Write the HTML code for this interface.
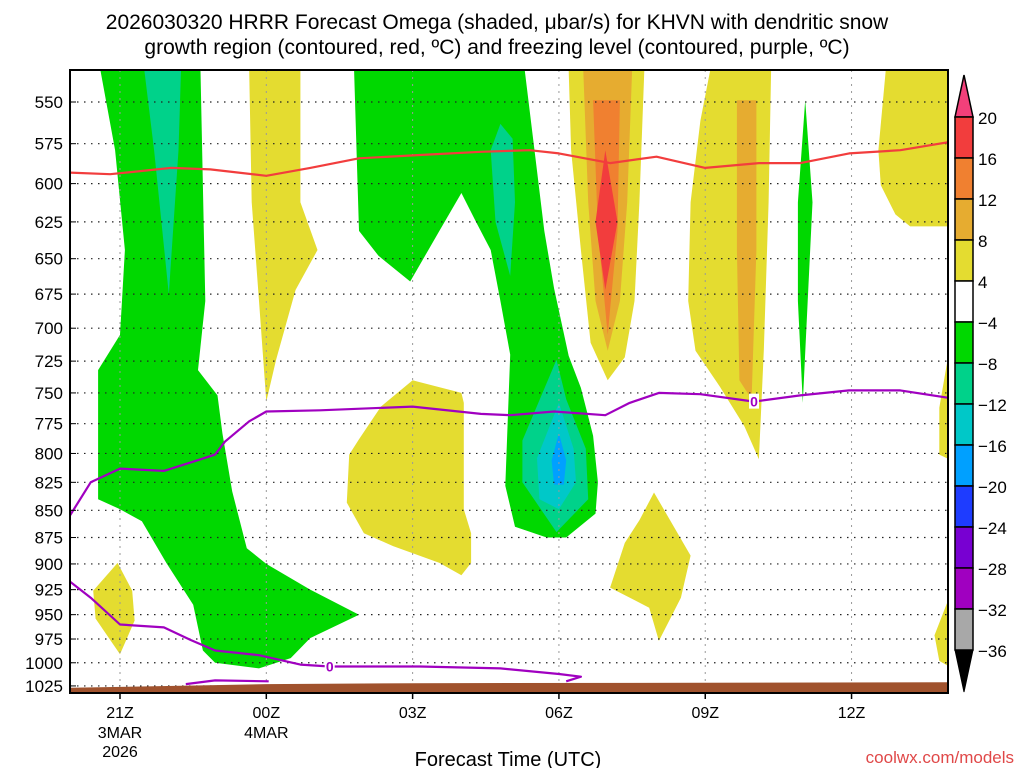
<!DOCTYPE html>
<html><head><meta charset="utf-8"><style>
body{margin:0;background:#fff;}
svg{display:block;font-family:"Liberation Sans",sans-serif;}
</style></head><body>
<svg id="chart" width="1024" height="768" viewBox="0 0 1024 768" xmlns="http://www.w3.org/2000/svg">
<text x="497" y="29" font-size="21" text-anchor="middle">2026030320 HRRR Forecast Omega (shaded, μbar/s) for KHVN with dendritic snow</text>
<text x="497" y="54" font-size="21" text-anchor="middle">growth region (contoured, red, ºC) and freezing level (contoured, purple, ºC)</text>
<g id="plot"></g>
<g id="yaxis"></g>
<g id="xaxis"></g>
<g id="cbar"></g>
<text x="508" y="766" font-size="20" text-anchor="middle">Forecast Time (UTC)</text>
<text x="1014" y="763" font-size="17" text-anchor="end" fill="#e04848">coolwx.com/models</text>
</svg>
<script>
// Axis ticks
const pLevels=[550,575,600,625,650,675,700,725,750,775,800,825,850,875,900,925,950,975,1000,1025];
const tHours=[0,3,6,9,12,15];
const tLabels=["21Z","00Z","03Z","06Z","09Z","12Z"];
const tSub1=["3MAR","4MAR","","","",""];
const tSub2=["2026","","","","",""];
const cbLevels=[20,16,12,8,4,-4,-8,-12,-16,-20,-24,-28,-32,-36];
const cbColors=["#f2407a","#f23d3d","#f08030","#e6ac30","#e4dc30","#ffffff","#00d800","#00d28a","#00c8c8","#00a0ff","#1e3cff","#7800d2","#a000c0","#a8a8a8","#000000"];
// Shaded omega regions [hour from 21Z, hPa]
const greenLeft=[[-0.4,532],[-0.1,579],[0.1,644],[0,705],[-0.45,732],[-0.45,840],[0,849],[0.45,860],[0.95,899],[1.5,940],[1.7,987],[1.95,1000],[2.85,1006],[3.5,995],[3.9,974],[4.9,950],[3.9,925],[3,900],[2.6,885],[2.3,833],[2.1,783],[2,752],[1.6,732],[1.75,680],[1.65,532]];
const tealLeft=[[0.5,532],[1.25,532],[1.2,579],[1,675],[0.7,579]];
const yellowA=[[2.65,532],[3.7,532],[3.7,612],[4.05,644],[3.6,672],[3.2,724],[3,757],[2.85,680],[2.7,612]];
const greenMid=[[4.8,532],[8.3,532],[8.5,579],[8.7,631],[8.9,671],[9.2,721],[9.45,746],[9.7,785],[9.8,825],[9.75,853],[9.15,875],[8.75,875],[8.1,865],[7.9,828],[8,720],[7.8,680],[7.6,644],[7.3,625],[7,606],[6.55,631],[5.95,666],[5.3,648],[4.9,631]];
const tealMid1=[[7.8,563],[8.05,572],[8.1,612],[8,662],[7.7,625],[7.6,579]];
const tealMid2=[[8.95,724],[9.15,755],[9.55,796],[9.6,840],[8.95,870],[8.25,825],[8.25,789]];
const cyanMid=[[9,758],[9.3,796],[9.35,825],[9,849],[8.6,840],[8.55,804]];
const blueMid=[[9,783],[9.15,806],[9.1,827],[8.9,827],[8.85,806]];
const yellowMid=[[6,740],[7,750],[7.05,758],[7.05,849],[7.2,871],[7.2,899],[7,911],[6.55,899],[5.6,883],[5,871],[4.65,843],[4.7,801],[4.9,788],[5.35,761]];
const yellowSmall=[[-0.05,899],[0.25,926],[0.3,956],[0,991],[-0.5,954],[-0.55,926]];
const yellow07=[[9.2,532],[10.75,532],[10.65,612],[10.55,680],[10.35,722],[10,740],[9.65,711],[9.45,644],[9.25,579]];
const dkyellow07=[[9.5,532],[10.5,532],[10.4,612],[10.25,680],[10,717],[9.75,680],[9.6,612]];
const orange07=[[9.7,549],[10.25,549],[10.2,631],[10,705],[9.8,631]];
const red07=[[9.95,579],[10.2,625],[9.95,672],[9.75,625]];
const yellowR=[[12.1,532],[13.35,532],[13.3,612],[13.2,717],[13.1,805],[12.8,777],[12.3,745],[11.8,717],[11.65,680],[11.7,612],[11.9,561]];
const dkyellowR=[[12.65,549],[13.05,549],[13.05,644],[12.95,755],[12.7,740],[12.65,644]];
const greenR=[[14.05,549],[14.2,612],[14.1,680],[14,758],[13.9,680],[13.9,612]];
const yellowTR=[[15.7,532],[17,532],[17,628],[16.2,628],[15.9,620],[15.6,601],[15.55,579]];
const yellowE1=[[17,717],[16.8,762],[16.8,801],[17,805]];
const yellowE2=[[17,933],[16.7,971],[16.8,998],[17,1004]];
const yellow08=[[10.95,834],[11.7,892],[11.5,933],[11.05,977],[10.85,943],[10.05,923],[10.35,880],[10.65,859]];
// Contours
const dgzLine=[[-1.03,593],[-0.2,594],[1.05,590],[1.85,591],[3,595],[3.9,590],[4.9,584],[6.15,582],[7.4,580],[8.4,579],[9,581],[10.05,587],[11,583],[12,590],[13.1,587],[13.95,587],[14.95,581],[16,579],[17,574]];
const frzUpper=[[-1.03,855],[-0.6,825],[0,813],[0.9,815],[1.65,805],[1.95,801],[2.15,790],[2.65,773],[3,765],[4.1,764],[6,761],[7.4,767],[8,768],[8.9,765],[9.95,768],[10.45,758],[11.05,750],[11.9,751],[13,757],[13.95,752],[14.95,748],[16,748],[17,754]];
const frzLower=[[-1.03,917],[-0.6,933],[0,960],[0.9,963],[1.45,976],[1.95,987],[2.85,992],[3.7,1002],[4.3,1004],[6.15,1004],[7.8,1006],[9,1012],[9.45,1015],[9.15,1020]];
const frzSmall=[[1.35,1023],[1.95,1019],[3.05,1020]];
const groundHours=[-1.03,3,6,17];
const groundP=[1027,1023,1022,1021];

const NS="http://www.w3.org/2000/svg";
const X0=70,X1=948,Y0=70,Y1=693;
function xs(h){return 120+48.77*h;}
function ys(p){return 102+938*Math.log(p/550);}
function mk(tag,attrs,parent){const e=document.createElementNS(NS,tag);for(const k in attrs)e.setAttribute(k,attrs[k]);parent.appendChild(e);return e;}
const plot=document.getElementById('plot');
const ya=document.getElementById('yaxis');
const xa=document.getElementById('xaxis');
const cb=document.getElementById('cbar');
const defs=mk('defs',{},plot);
const cp=mk('clipPath',{id:'clip'},defs);
mk('rect',{x:X0,y:Y0,width:X1-X0,height:Y1-Y0},cp);
const gg=mk('g',{'clip-path':'url(#clip)'},plot);
function pts(arr){return arr.map(d=>xs(d[0]).toFixed(1)+','+ys(d[1]).toFixed(1)).join(' ');}
function poly(arr,fill,name){const e=mk('polygon',{points:pts(arr),fill:fill},gg);

}
poly(greenLeft,'#00d800','omega-green-left');
poly(tealLeft,'#00d28a','omega-teal-left');
poly(yellowA,'#e4dc30','omega-yellow-00z');
poly(greenMid,'#00d800','omega-green-mid');
poly(tealMid1,'#00d28a','omega-teal-mid-upper');
poly(tealMid2,'#00d28a','omega-teal-mid-lower');
poly(cyanMid,'#00c8c8','omega-cyan-mid');
poly(blueMid,'#00a0ff','omega-blue-mid');
poly(yellowMid,'#e4dc30','omega-yellow-mid');
poly(yellowSmall,'#e4dc30','omega-yellow-small');
poly(yellow07,'#e4dc30','omega-yellow-07z');
poly(dkyellow07,'#e6ac30','omega-darkyellow-07z');
poly(orange07,'#f08030','omega-orange-07z');
poly(red07,'#f23d3d','omega-red-07z');
poly(yellowR,'#e4dc30','omega-yellow-10z');
poly(dkyellowR,'#e6ac30','omega-darkyellow-10z');
poly(greenR,'#00d800','omega-green-11z');
poly(yellowTR,'#e4dc30','omega-yellow-top-right');
poly(yellowE1,'#e4dc30','omega-yellow-edge-mid');
poly(yellowE2,'#e4dc30','omega-yellow-edge-low');
poly(yellow08,'#e4dc30','omega-yellow-08z');
// grid
pLevels.forEach(p=>{const l=mk('line',{x1:X0,x2:X1,y1:ys(p),y2:ys(p),stroke:'#222','stroke-width':1.2,'stroke-dasharray':'1.5 5.5'},gg);

});
tHours.forEach(h=>{const l=mk('line',{x1:xs(h),x2:xs(h),y1:Y0,y2:Y1,stroke:'#999','stroke-width':1,'stroke-dasharray':'2 5'},gg);

});
// ground
const gp=groundHours.map((h,i)=>[h,groundP[i]]);
const gpoly=mk('polygon',{points:pts(gp)+' '+X1+','+Y1+' '+X0+','+Y1,fill:'#a0522d'},gg);


function line(arr,color,name){const e=mk('polyline',{points:pts(arr),fill:'none',stroke:color,'stroke-width':2.2,'stroke-linejoin':'round'},gg);

}
line(dgzLine,'#f23d3d','dendritic-growth-contour');
line(frzUpper,'#a000c0','freezing-level-upper');
line(frzLower,'#a000c0','freezing-level-lower');
line(frzSmall,'#a000c0','freezing-level-small');
function lab(h,p){mk('rect',{x:xs(h)-5,y:ys(p)-8,width:10,height:15,fill:'#fff'},gg);
const t=mk('text',{x:xs(h),y:ys(p)+5,'font-size':14,'font-weight':'bold',fill:'#a000c0','text-anchor':'middle'},gg);t.textContent='0';

}
lab(13,757);lab(4.3,1004);
// frame
const fr=mk('rect',{x:X0,y:Y0,width:X1-X0,height:Y1-Y0,fill:'none',stroke:'#000','stroke-width':2},plot);


// y labels
pLevels.forEach(p=>{const t=mk('text',{x:63,y:ys(p)+6,'font-size':17,'text-anchor':'end'},ya);t.textContent=p;


mk('line',{x1:X0,x2:X0+6,y1:ys(p),y2:ys(p),stroke:'#000'},ya);});
// x labels
tHours.forEach((h,i)=>{const x=xs(h);
mk('line',{x1:x,x2:x,y1:Y1,y2:Y1+6,stroke:'#000','stroke-width':1.5},xa);
[[tLabels[i],718],[tSub1[i],738],[tSub2[i],757]].forEach(([s,y])=>{if(!s)return;const t=mk('text',{x:x,y:y,'font-size':16,'text-anchor':'middle'},xa);t.textContent=s;

});});
// colorbar
const cx=955,cw=18,cbTop=117,step=41;
const tri=mk('polygon',{points:`${cx},${cbTop} ${cx+cw},${cbTop} ${cx+cw/2},75`,fill:cbColors[0],stroke:'#000','stroke-width':1.5},cb);


for(let k=0;k<cbLevels.length-1;k++){const r=mk('rect',{x:cx,y:cbTop+k*step,width:cw,height:step,fill:cbColors[k+1],stroke:'#000','stroke-width':1.5},cb);

}
const bt=cbTop+(cbLevels.length-1)*step;
const tri2=mk('polygon',{points:`${cx},${bt} ${cx+cw},${bt} ${cx+cw/2},692`,fill:'#000',stroke:'#000'},cb);


cbLevels.forEach((v,k)=>{const t=mk('text',{x:978,y:cbTop+k*step+7,'font-size':17},cb);t.textContent=(v<0?'\u2212'+(-v):v);

});
</script>
</body></html>
